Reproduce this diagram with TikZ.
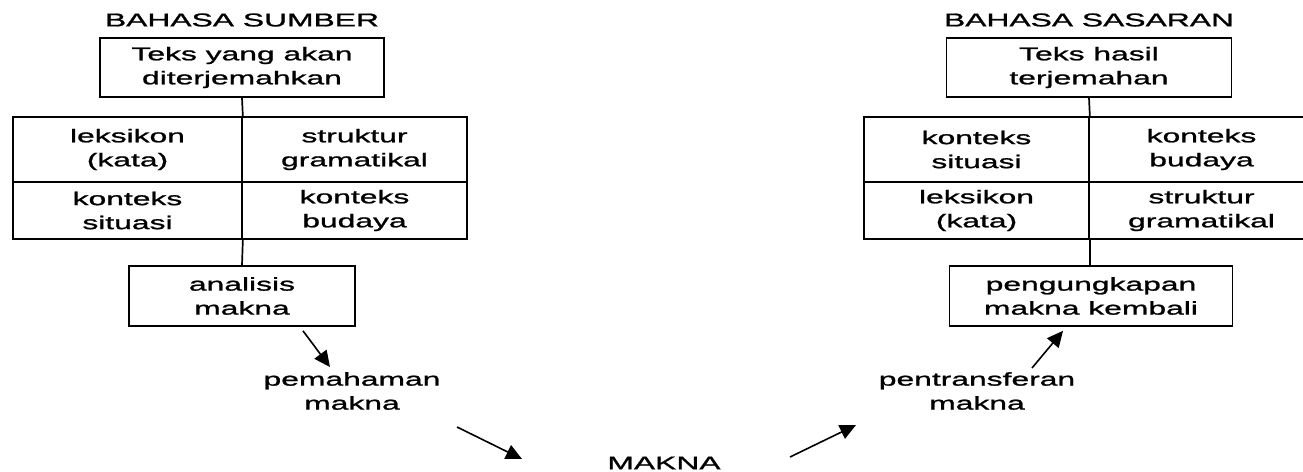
\documentclass[tikz,border=0pt]{standalone}
\usepackage{fontspec}
\setmainfont{Liberation Sans}[FakeStretch=1.72,FakeBold=1.2]
\usetikzlibrary{arrows.meta}

\begin{document}
\begin{tikzpicture}[x=1pt,y=-1pt,
  every node/.style={font=\fontsize{18.5}{24}\selectfont, align=center, inner sep=0pt},
  box/.style={draw, line width=1.7pt},
  link/.style={line width=1.7pt},
  flow/.style={line width=1.6pt, -{Triangle[length=16pt,width=15pt]}}]

\useasboundingbox (0,0) rectangle (1303,471);
\clip (0,0) rectangle (1303,471);

% ---- source language column ----
\node (hdrL) at (242,20) {BAHASA SUMBER};
\node[box, minimum width=284pt, minimum height=59pt] (srcT) at (242,67.5) {Teks yang akan\\diterjemahkan};

\node[box, minimum width=229pt, minimum height=65pt] (lkL) at (127.5,149.5) {leksikon\\(kata)};
\node[box, minimum width=225pt, minimum height=65pt] (sgL) at (354.5,149.5) {struktur\\gramatikal};
\node[box, minimum width=229pt, minimum height=57pt] (ksL) at (127.5,210.5) {konteks\\situasi};
\node[box, minimum width=225pt, minimum height=57pt] (kbL) at (354.5,210.5) {konteks\\budaya};

\node[box, minimum width=226pt, minimum height=60pt] (anL) at (242,296) {analisis\\makna};

\draw[link] (srcT.south) -- (lkL.north east);
\draw[link] (ksL.south east) -- (anL.north);

% ---- target language column ----
\node (hdrR) at (1089,20) {BAHASA SASARAN};
\node[box, minimum width=285pt, minimum height=59pt] (tgtT) at (1089,67.5) {Teks hasil\\terjemahan};

\node[box, minimum width=225pt, minimum height=65pt] (ksR) at (976.5,149.5) {konteks\\situasi};
\node[box, minimum width=225pt, minimum height=65pt] (kbR) at (1201.5,149.5) {konteks\\budaya};
\node[box, minimum width=225pt, minimum height=57pt] (lkR) at (976.5,210.5) {leksikon\\(kata)};
\node[box, minimum width=225pt, minimum height=57pt] (sgR) at (1201.5,210.5) {struktur\\gramatikal};

\node[box, minimum width=283pt, minimum height=60pt] (anR) at (1091,296) {pengungkapan\\makna kembali};

\draw[link] (tgtT.south) -- (ksR.north east);
\draw[link] (lkR.south east) -- (lkR.south east |- anR.north);

% ---- meaning transfer path ----
\node (pem) at (352,391) {pemahaman\\makna};
\node (makna) at (664,463) {MAKNA};
\node (ptr) at (977,391) {pentransferan\\makna};

\draw[flow] ([shift={(61,4)}]anL.south) -- ([shift={(-22,-24)}]pem.center);
\draw[flow] ([shift={(105,36)}]pem.center) -- ([shift={(-142,-4)}]makna.center);
\draw[flow] ([shift={(126,-6)}]makna.center) -- ([shift={(-121,34)}]ptr.center);
\draw[flow] ([shift={(55,-23)}]ptr.center) -- ([shift={(-28,4)}]anR.south);

\end{tikzpicture}
\end{document}
